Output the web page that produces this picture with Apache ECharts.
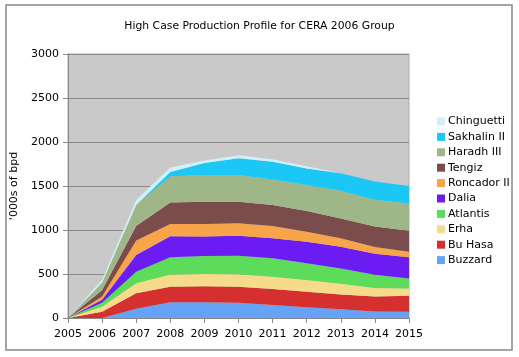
<!DOCTYPE html>
<html><head><meta charset="utf-8">
<script src="https://cdn.jsdelivr.net/npm/echarts@6/dist/echarts.min.js"></script>
<style>html,body{margin:0;padding:0;background:#fff}#c{width:519px;height:357px}</style>
</head><body><div id="c"></div>
<script>
const years = ['2005','2006','2007','2008','2009','2010','2011','2012','2013','2014','2015'];
const yTicks = [0, 500, 1000, 1500, 2000, 2500, 3000];
const buzzard    = [0,   0, 105, 180, 178, 172, 148, 121,  99,  75,  72];
const buHasa     = [0,  72, 175, 175, 184, 184, 181, 178, 168, 170, 180];
const erha       = [0,  56, 115, 140, 138, 140, 141, 133, 123,  95,  84];
const atlantis   = [0,  46, 130, 195, 204, 212, 208, 189, 172, 152, 114];
const dalia      = [0,  33, 191, 240, 222, 227, 227, 246, 248, 238, 239];
const roncador   = [0,  38, 166, 138, 142, 141, 140, 113,  95,  76,  63];
const tengiz     = [0,  70, 163, 244, 254, 246, 239, 236, 227, 234, 239];
const haradh     = [0,  85, 240, 298, 303, 303, 291, 295, 313, 304, 311];
const sakhalin   = [0,   0,   0,  50, 135, 189, 201, 189, 199, 208, 197];
const chinguetti = [0,  35,  55,  50,  30,  36,  27,  25,   0,   0,   0];

const seriesDefs = [
  ['Buzzard', buzzard, '#66a2f6'],
  ['Bu Hasa', buHasa, '#d62f2f'],
  ['Erha', erha, '#f6dc8a'],
  ['Atlantis', atlantis, '#5cdc5a'],
  ['Dalia', dalia, '#6a1cf2'],
  ['Roncador II', roncador, '#f7a44a'],
  ['Tengiz', tengiz, '#7a4c4c'],
  ['Haradh III', haradh, '#9fb689'],
  ['Sakhalin II', sakhalin, '#1bc8f5'],
  ['Chinguetti', chinguetti, '#cff0f9']
];
const FONT = 'DejaVu Sans';
const chart = echarts.init(document.getElementById('c'), null, {renderer:'canvas'});
chart.setOption({
  animation:false,
  backgroundColor:'#fff',
  title:{text:'High Case Production Profile for CERA 2006 Group', left:'center', top:16,
    textStyle:{fontFamily:FONT, fontSize:10.8, fontWeight:'normal', color:'#000'}},
  graphic:[{type:'rect', shape:{x:6,y:5,width:506,height:345}, style:{fill:'none', stroke:'#888', lineWidth:1.5}, z:100}],
  legend:{orient:'vertical', left:432, top:111, itemWidth:8, itemHeight:8, itemGap:4.4,
    icon:'rect', data:seriesDefs.map(s=>s[0]).reverse(),
    textStyle:{fontFamily:FONT, fontSize:11, color:'#000', padding:[0,0,0,-2]}},
  grid:{left:68, right:110, top:54, bottom:39, show:true, backgroundColor:'#c9c9c9', borderColor:'#aaa', borderWidth:1},
  xAxis:{type:'category', data:years, boundaryGap:false,
    axisLine:{lineStyle:{color:'#888'}}, axisTick:{show:true, interval:0, lineStyle:{color:'#888'}},
    axisLabel:{fontFamily:FONT, fontSize:11, color:'#000', margin:11, interval:0}},
  yAxis:{type:'value', min:0, max:3000, interval:500, name:"'000s of bpd", nameLocation:'middle', nameGap:39,
    nameTextStyle:{fontFamily:FONT, fontSize:11, color:'#000'},
    axisLine:{show:true, lineStyle:{color:'#888'}}, axisTick:{show:true, lineStyle:{color:'#888'}},
    splitLine:{lineStyle:{color:'#8a8a8a'}},
    axisLabel:{fontFamily:FONT, fontSize:11, color:'#000', margin:9, formatter:v=>yTicks.includes(v)?String(v):''}},
  series:seriesDefs.map(([n,d,c])=>({name:n, type:'line', stack:'t', data:d, symbol:'none',
    lineStyle:{width:0}, areaStyle:{color:c, opacity:1}, itemStyle:{color:c}}))
});
</script></body></html>
